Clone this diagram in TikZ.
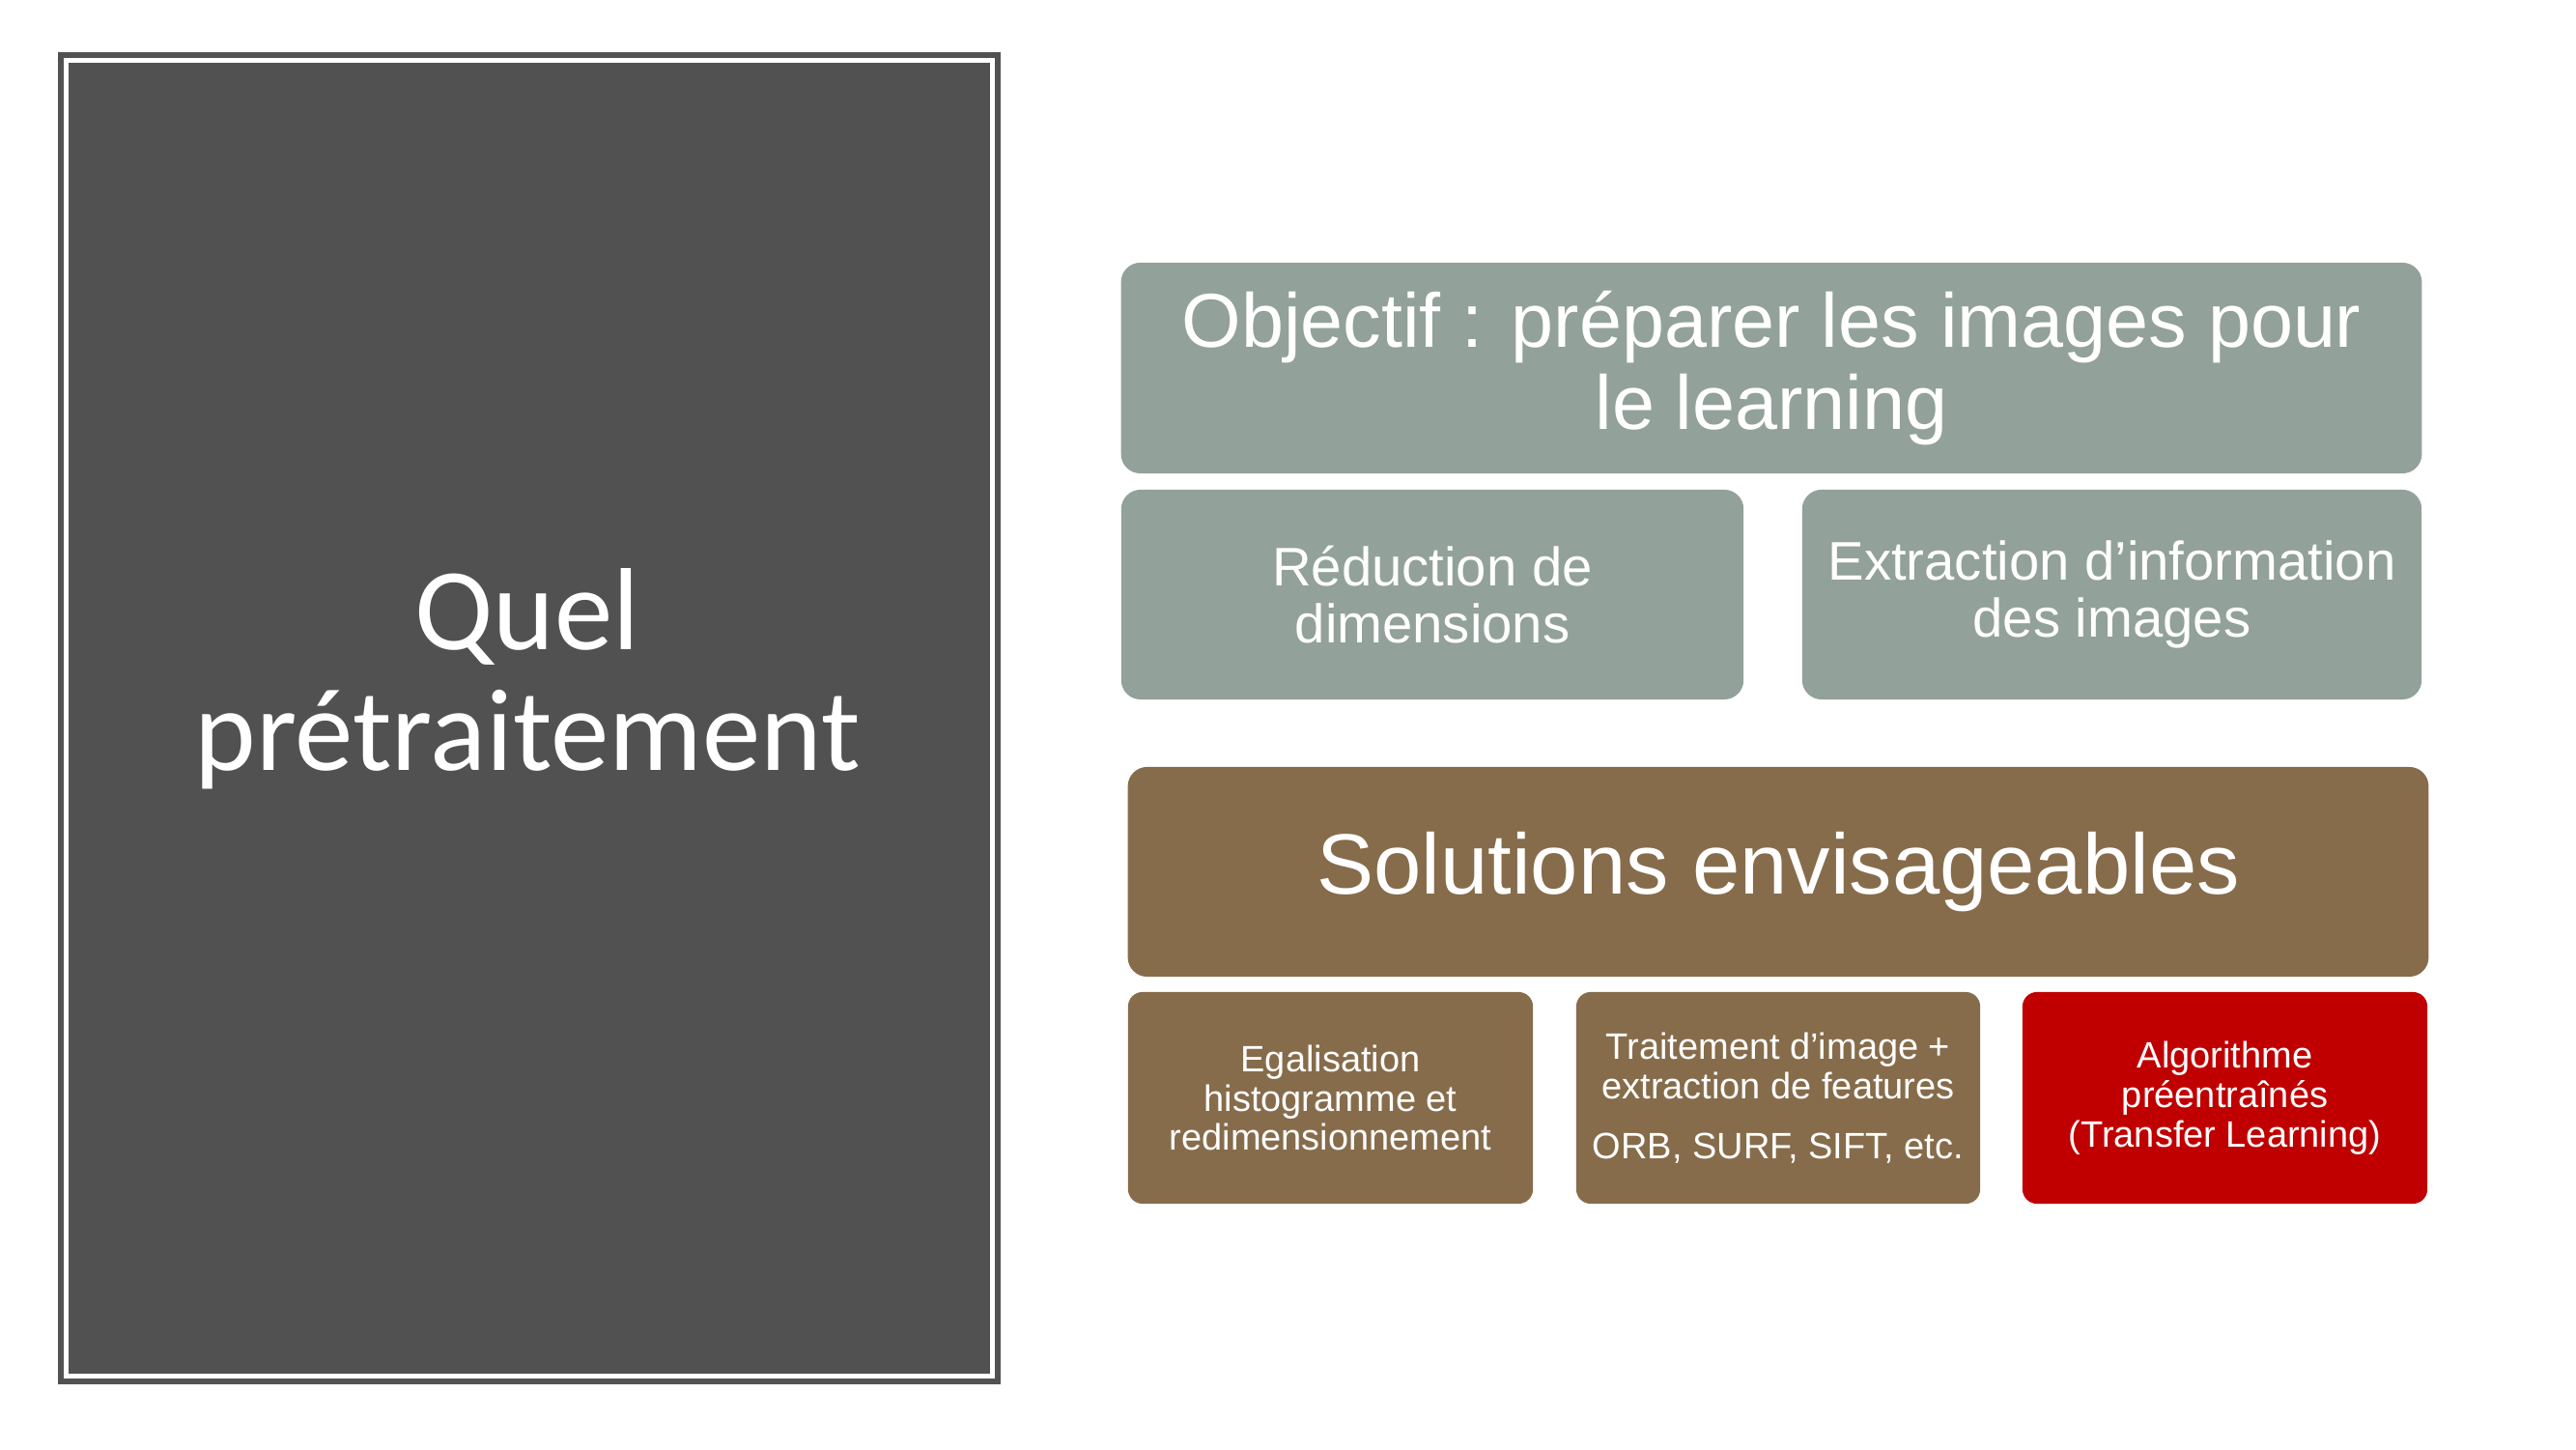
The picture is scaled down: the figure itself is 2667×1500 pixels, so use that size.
\documentclass[tikz,border=0pt]{standalone}
\usepackage{fontspec}
\setmainfont{Liberation Sans}
\newfontfamily\titlefont{Carlito}
\usetikzlibrary{positioning}
\definecolor{panelgray}{HTML}{515151}
\definecolor{sage}{HTML}{92A199}
\definecolor{umber}{HTML}{866C4B}
\definecolor{deepred}{HTML}{C00000}
\tikzset{
	box/.style = {rounded corners = 0.2cm, text = white, align = center, inner sep = 0pt},
	sagebox/.style = {box, fill = sage},
	umberbox/.style = {box, fill = umber},
	redbox/.style = {box, fill = deepred},
}
\begin{document}
\begin{tikzpicture} [x = 0.01cm, y = 0.01cm]
	\useasboundingbox (0,0) rectangle (2667,1500);
	% left panel
	\draw [panelgray, line width = 0.06cm] (63,70) rectangle (1033,1443);
	\fill [panelgray] (71,78) rectangle (1025,1435);
	\node (title) [text = white, align = center, font = \titlefont\fontsize{34.4}{35.6}\selectfont] at (546,797) {Quel\\prétraitement};
	% objective
	\node (goal) [sagebox, minimum width = 13.46cm, minimum height = 2.18cm, font = \fontsize{22.5}{24.2}\selectfont] at (1834,1119) {Objectif : préparer les images pour\\le learning};
	\node (reduce) [sagebox, minimum width = 6.44cm, minimum height = 2.17cm, font = \fontsize{16}{17}\selectfont] at (1483,884.5) {Réduction de\\dimensions};
	\node (extract) [sagebox, minimum width = 6.41cm, minimum height = 2.17cm, font = \fontsize{16}{17}\selectfont] at (2186.5,884.5) {Extraction d’information\\des images};
	% solutions
	\node (sols) [umberbox, minimum width = 13.46cm, minimum height = 2.17cm, font = \fontsize{25.2}{27}\selectfont] at (1841,597.5) {Solutions envisageables};
	\node (equal) [umberbox, minimum width = 4.19cm, minimum height = 2.19cm, rounded corners = 0.15cm, font = \fontsize{10.8}{11.6}\selectfont] at (1377.5,363.5) {Egalisation\\histogramme et\\redimensionnement};
	\node (feat) [umberbox, minimum width = 4.18cm, minimum height = 2.19cm, rounded corners = 0.15cm, font = \fontsize{10.8}{11.6}\selectfont] at (1841,363.5) {Traitement d’image +\\extraction de features\\[6pt]ORB, SURF, SIFT, etc.};
	\node (pretrained) [redbox, minimum width = 4.19cm, minimum height = 2.19cm, rounded corners = 0.15cm, font = \fontsize{10.8}{11.6}\selectfont] at (2303.5,363.5) {Algorithme\\préentraînés\\(Transfer Learning)};
\end{tikzpicture}
\end{document}
